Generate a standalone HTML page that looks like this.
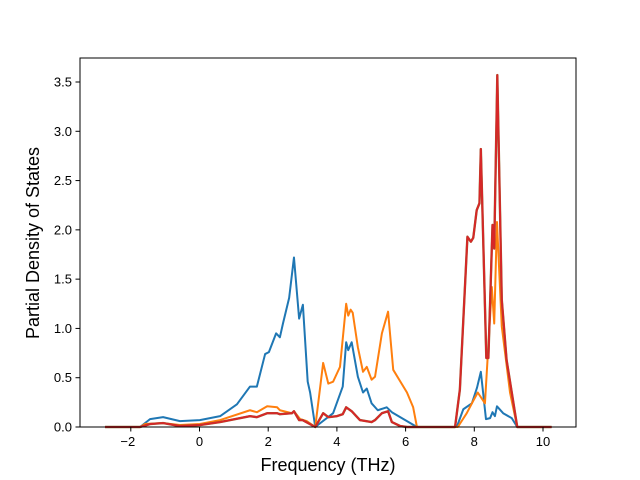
<!DOCTYPE html>
<html><head><meta charset="utf-8"><style>
html,body{margin:0;padding:0;background:#fff;}
svg{display:block;font-family:"Liberation Sans","DejaVu Sans",sans-serif;}
</style></head><body>
<svg id="chart" width="640" height="480" viewBox="0 0 640 480">
<rect x="0" y="0" width="640" height="480" fill="#fff"/>
<g id="plot"></g>
<rect x="80" y="58" width="496" height="369" fill="none" stroke="#000" stroke-width="1"/>
<g id="xticks"></g>
<g id="yticks"></g>
<text x="328" y="471" text-anchor="middle" font-size="18">Frequency (THz)</text>
<text transform="translate(39,243) rotate(-90)" text-anchor="middle" font-size="18">Partial Density of States</text>
</svg>
<script>
const xTicks = [-2, 0, 2, 4, 6, 8, 10];
const yTicks = [0, 0.5, 1.0, 1.5, 2.0, 2.5, 3.0, 3.5];
const yTickLabels = ["0.0","0.5","1.0","1.5","2.0","2.5","3.0","3.5"];
const blueX = [-2.75,-1.73,-1.44,-1.06,-0.57,0.01,0.6,1.09,1.47,1.67,1.91,2.02,2.23,2.34,2.43,2.61,2.75,2.9,3.01,3.15,3.22,3.37,3.89,4.17,4.27,4.33,4.43,4.61,4.76,4.87,5.01,5.19,5.45,5.6,6.33,7.49,7.68,7.93,8.08,8.19,8.34,8.46,8.53,8.6,8.66,8.84,9.09,9.25,10.25];
const blueY = [0,0,0.08,0.1,0.06,0.07,0.11,0.23,0.41,0.41,0.74,0.76,0.95,0.91,1.05,1.31,1.72,1.1,1.24,0.46,0.35,0,0.14,0.41,0.86,0.78,0.86,0.51,0.35,0.39,0.24,0.17,0.2,0.15,0,0,0.18,0.24,0.4,0.56,0.08,0.09,0.15,0.11,0.21,0.14,0.09,0,0];
const orangeX = [-2.75,-1.73,-1.59,-1.06,-0.57,0.01,0.6,1.47,1.67,1.97,2.26,2.34,2.69,2.75,2.93,3.12,3.37,3.6,3.75,3.89,4.09,4.27,4.33,4.4,4.46,4.61,4.76,4.87,5.01,5.11,5.31,5.49,5.64,6.04,6.22,6.33,7.52,7.78,7.96,8.1,8.31,8.51,8.58,8.66,8.8,9.04,9.25,10.25];
const orangeY = [0,0,0.03,0.04,0.02,0.03,0.07,0.17,0.15,0.21,0.2,0.17,0.14,0.16,0.08,0.06,0,0.65,0.44,0.46,0.61,1.25,1.13,1.19,1.16,0.81,0.56,0.61,0.48,0.51,0.95,1.17,0.58,0.35,0.2,0,0,0.14,0.26,0.35,0.24,1.42,1.05,2.08,1.02,0.35,0,0];
const redX = [-2.75,-1.73,-1.44,-1.06,-0.57,0.01,0.6,1.47,1.67,1.97,2.26,2.34,2.69,2.75,2.9,3.0,3.37,3.6,3.75,4.0,4.17,4.27,4.43,4.67,5.01,5.11,5.31,5.49,5.6,5.84,6.04,7.44,7.58,7.8,7.9,7.97,8.07,8.15,8.19,8.35,8.41,8.53,8.58,8.67,8.8,8.94,9.25,10.25];
const redY = [0,0,0.03,0.04,0.01,0.02,0.05,0.11,0.1,0.14,0.14,0.13,0.14,0.16,0.07,0.07,0,0.14,0.1,0.11,0.13,0.2,0.16,0.07,0.05,0.07,0.14,0.16,0.05,0.01,0,0,0.38,1.93,1.88,1.92,2.2,2.27,2.82,0.7,0.7,2.05,1.81,3.57,1.29,0.68,0,0];

const NS = "http://www.w3.org/2000/svg";
function xs(f){ return 199.5 + 34.35 * f; }
function ys(v){ return 427 - 98.57 * v; }

const plot = document.getElementById('plot');
function drawLine(X, Y, color, name, w){
  const p = document.createElementNS(NS, 'polyline');
  p.setAttribute('points', X.map((x,i)=>xs(x).toFixed(2)+','+ys(Y[i]).toFixed(2)).join(' '));
  p.setAttribute('fill','none');
  p.setAttribute('stroke',color);
  p.setAttribute('stroke-width',w);
  p.setAttribute('stroke-linejoin','round');
  
  
  plot.appendChild(p);
}
drawLine(blueX, blueY, '#1f77b4', 'series-blue', 2);
drawLine(orangeX, orangeY, '#ff7f0e', 'series-orange', 2);
drawLine(redX, redY, '#8c6d31', 'series-green-under', 2.4);
drawLine(redX, redY, '#d62728', 'series-red', 2);

const xg = document.getElementById('xticks');
xTicks.forEach(t=>{
  const l = document.createElementNS(NS,'line');
  l.setAttribute('x1',xs(t)); l.setAttribute('x2',xs(t));
  l.setAttribute('y1',427); l.setAttribute('y2',431.5);
  l.setAttribute('stroke','#000');
  
  
  xg.appendChild(l);
  const tx = document.createElementNS(NS,'text');
  tx.setAttribute('x', xs(t) - (t<0?3:0)); tx.setAttribute('y', 446);
  tx.setAttribute('text-anchor','middle'); tx.setAttribute('font-size','13');
  tx.textContent = t<0 ? '\u2212'+Math.abs(t) : String(t);
  
  
  xg.appendChild(tx);
});
const yg = document.getElementById('yticks');
yTicks.forEach((t,i)=>{
  const l = document.createElementNS(NS,'line');
  l.setAttribute('x1',75.5); l.setAttribute('x2',80);
  l.setAttribute('y1',ys(t)); l.setAttribute('y2',ys(t));
  l.setAttribute('stroke','#000');
  
  
  yg.appendChild(l);
  const tx = document.createElementNS(NS,'text');
  tx.setAttribute('x',72); tx.setAttribute('y', ys(t)+4.5);
  tx.setAttribute('text-anchor','end'); tx.setAttribute('font-size','13');
  tx.textContent = yTickLabels[i];
  
  
  yg.appendChild(tx);
});
</script>
</body></html>
